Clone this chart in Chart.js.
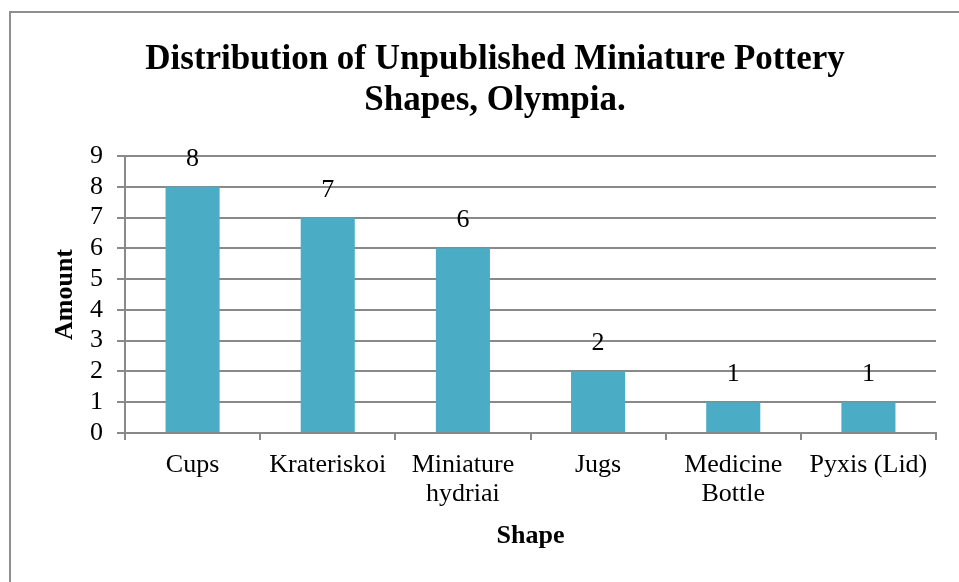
<!DOCTYPE html>
<html>
<head>
<meta charset="utf-8">
<script src="https://cdn.jsdelivr.net/npm/chart.js@4.4.1/dist/chart.umd.min.js"></script>
<style>
  html, body { margin: 0; padding: 0; width: 959px; height: 582px; overflow: hidden; background: #ffffff; }
  #frame { position: absolute; left: 9px; top: 11px; width: 1000px; height: 700px; border: 2px solid #8f8f8f; box-sizing: border-box; }
  #wrap { position: absolute; left: 0; top: 0; width: 959px; height: 582px; }
</style>
</head>
<body>
<div id="frame"></div>
<div id="wrap"><canvas id="c" width="959" height="582"></canvas></div>
<script>
const categories = [["Cups"], ["Krateriskoi"], ["Miniature", "hydriai"], ["Jugs"], ["Medicine", "Bottle"], ["Pyxis (Lid)"]];
const amounts = [8, 7, 6, 2, 1, 1];
const yTicks = [0, 1, 2, 3, 4, 5, 6, 7, 8, 9];
const titleLines = ["Distribution of Unpublished Miniature Pottery", "Shapes, Olympia."];

const SERIF = "'Liberation Serif', 'Times New Roman', 'DejaVu Serif', serif";
const GRID = '#898989';

const valueLabels = {
  id: 'valueLabels',
  afterDatasetsDraw(chart) {
    const ctx = chart.ctx;
    const meta = chart.getDatasetMeta(0);
    ctx.save();
    ctx.font = "26px " + SERIF;
    ctx.fillStyle = '#000000';
    ctx.textAlign = 'center';
    ctx.textBaseline = 'alphabetic';
    meta.data.forEach((bar, i) => {
      ctx.fillText(String(amounts[i]), bar.x, bar.y - 21);
    });
    ctx.restore();
  }
};

new Chart(document.getElementById('c'), {
  type: 'bar',
  data: {
    labels: categories,
    datasets: [{
      data: amounts,
      backgroundColor: '#4BACC6',
      borderWidth: 0,
      categoryPercentage: 1.0,
      barPercentage: 0.4
    }]
  },
  options: {
    responsive: false,
    animation: false,
    devicePixelRatio: 1,
    layout: { padding: { left: 54, right: 23, top: 0, bottom: 27 } },
    plugins: {
      legend: { display: false },
      tooltip: { enabled: false },
      title: {
        display: true,
        text: titleLines,
        color: '#000000',
        font: { family: SERIF, size: 35, weight: 'bold', lineHeight: 1.17 },
        padding: { top: 39.5, bottom: 34.6 }
      }
    },
    scales: {
      x: {
        grid: {
          display: true,
          drawOnChartArea: false,
          drawTicks: true,
          tickLength: 7,
          offset: true,
          color: GRID,
          lineWidth: 2
        },
        border: { display: true, color: GRID, width: 2 },
        ticks: {
          color: '#000000',
          font: { family: SERIF, size: 26, lineHeight: 1.13 },
          padding: 10,
          maxRotation: 0,
          autoSkip: false
        },
        title: {
          display: true,
          text: 'Shape',
          color: '#000000',
          font: { family: SERIF, size: 26, weight: 'bold', lineHeight: 1.15 },
          padding: { top: 4, bottom: 4 }
        },
        afterFit(scale) { scale.height = 122; }
      },
      y: {
        min: 0,
        max: 9,
        afterBuildTicks(scale) { scale.ticks = yTicks.map(v => ({ value: v })); },
        grid: {
          color: GRID,
          lineWidth: 2,
          drawTicks: true,
          tickLength: 8
        },
        border: { display: true, color: GRID, width: 2 },
        ticks: {
          color: '#000000',
          font: { family: SERIF, size: 26 },
          padding: 14,
          stepSize: 1,
          autoSkip: false
        },
        title: {
          display: true,
          text: 'Amount',
          color: '#000000',
          font: { family: SERIF, size: 26, weight: 'bold', lineHeight: 0.85 },
          padding: { top: 0, bottom: 0 }
        },
        afterFit(scale) { scale.width = 71; }
      }
    }
  },
  plugins: [valueLabels]
});
</script>
</body>
</html>
